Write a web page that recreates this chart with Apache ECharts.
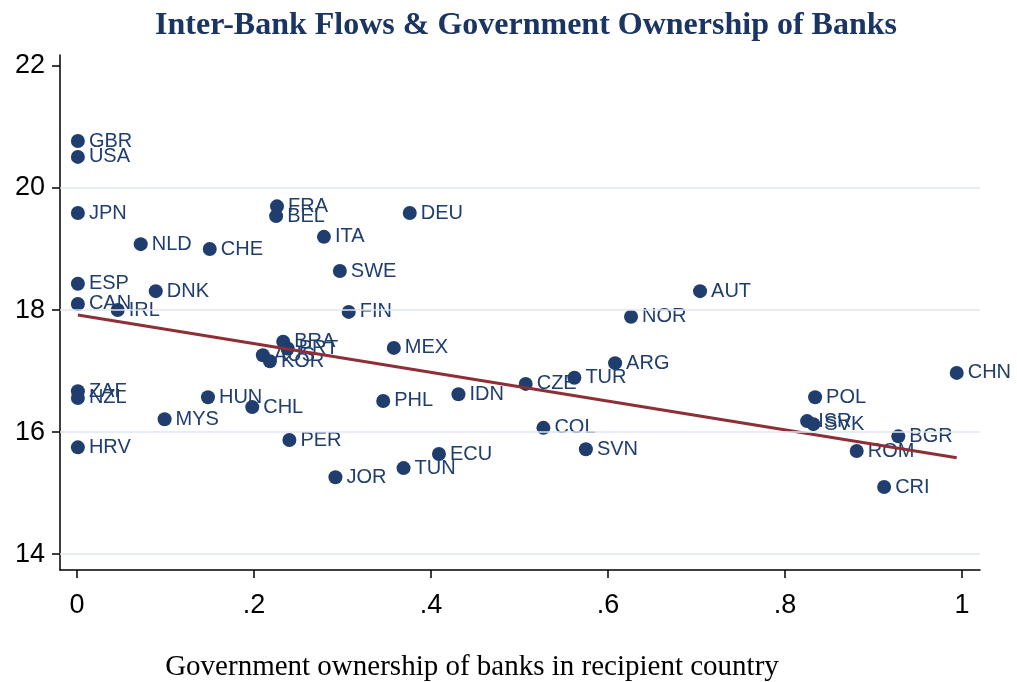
<!DOCTYPE html>
<html>
<head>
<meta charset="utf-8">
<script src="https://cdn.jsdelivr.net/npm/echarts@6/dist/echarts.min.js"></script>
<style>html,body{margin:0;padding:0;background:#fff}#c{width:1017px;height:682px}</style>
</head>
<body>
<div id="c"></div>
<script>
const countries = ['GBR','USA','JPN','ESP','CAN','ZAF','NZL','HRV','IRL','DNK','NLD','CHE','MYS','HUN','CHL','FRA','BEL','ITA','SWE','FIN','DEU','BRA','PRT','AUS','KOR','MEX','PHL','IDN','PER','JOR','TUN','ECU','CZE','TUR','ARG','COL','SVN','NOR','AUT','POL','ISR','SVK','BGR','ROM','CRI','CHN'];
const govOwnership = [0.001,0.001,0.001,0.001,0.001,0.001,0.001,0.001,0.046,0.089,0.072,0.150,0.099,0.148,0.198,0.226,0.225,0.279,0.297,0.307,0.376,0.233,0.238,0.210,0.218,0.358,0.346,0.431,0.240,0.292,0.369,0.409,0.507,0.562,0.608,0.527,0.575,0.626,0.704,0.834,0.825,0.832,0.928,0.881,0.912,0.994];
const interBankFlows = [20.77,20.51,19.59,18.43,18.10,16.67,16.56,15.75,18.00,18.31,19.08,19.00,16.21,16.57,16.41,19.70,19.54,19.20,18.64,17.97,19.59,17.48,17.37,17.26,17.16,17.38,16.51,16.62,15.87,15.26,15.41,15.64,16.79,16.89,17.13,16.07,15.72,17.89,18.31,16.57,16.18,16.13,15.93,15.69,15.10,16.97];
const fitX = [0.001, 0.994];
const fitY = [17.92, 15.58];
const xTicks = [0, 0.2, 0.4, 0.6, 0.8, 1];
const xTickLabels = ['0', '.2', '.4', '.6', '.8', '1'];
const yTicks = [14, 16, 18, 20, 22];
const yGridLines = [14, 16, 18, 20];

const points = countries.map((c, i) => ({ name: c, value: [govOwnership[i], interBankFlows[i]] }));
const fitData = fitX.map((x, i) => [x, fitY[i]]);
const navy = '#1f3d6d';

const chart = echarts.init(document.getElementById('c'));
chart.setOption({
  animation: false,
  backgroundColor: '#ffffff',
  title: [
    { text: 'Inter-Bank Flows & Government Ownership of Banks', left: 521, top: 5, textAlign: 'center',
      textStyle: { fontFamily: 'Liberation Serif', fontWeight: 'bold', fontSize: 32, color: '#1a3563' } },
    { text: 'Government ownership of banks in recipient country', left: 467, top: 648, textAlign: 'center',
      textStyle: { fontFamily: 'Liberation Serif', fontWeight: 'normal', fontSize: 29, color: '#000' } }
  ],
  grid: { left: 60, right: 37, top: 55, bottom: 112, containLabel: false },
  xAxis: {
    type: 'value', min: -0.0192, max: 1.0203,
    axisLine: { show: true, onZero: false, lineStyle: { color: '#000', width: 1.5 } },
    axisTick: { show: true, length: 8, customValues: xTicks, lineStyle: { color: '#000', width: 1.5 } },
    axisLabel: { customValues: xTicks, margin: 22, fontSize: 27, color: '#000', fontFamily: 'Liberation Sans',
      formatter: v => { const i = xTicks.findIndex(t => Math.abs(t - v) < 1e-6); return i >= 0 ? xTickLabels[i] : ''; } },
    splitLine: { show: false }
  },
  yAxis: {
    type: 'value', min: 13.74, max: 22.18,
    axisLine: { show: true, onZero: false, lineStyle: { color: '#000', width: 1.5 } },
    axisTick: { show: true, length: 8, customValues: yTicks, lineStyle: { color: '#000', width: 1.5 } },
    axisLabel: { customValues: yTicks, margin: 15, fontSize: 27, color: '#000', fontFamily: 'Liberation Sans' },
    splitLine: { show: false }
  },
  series: [
    {
      type: 'scatter', data: [], z: 1, silent: true,
      markLine: {
        silent: true, symbol: 'none', label: { show: false }, animation: false,
        lineStyle: { color: '#dfe6ef', width: 1.5, type: 'solid' },
        data: yGridLines.map(v => ({ yAxis: v }))
      }
    },
    {
      type: 'scatter', data: points, z: 3, symbol: 'circle', symbolSize: 14,
      itemStyle: { color: navy, opacity: 1 },
      label: { show: true, position: 'right', distance: 4, formatter: '{b}', color: navy,
        fontSize: 20, fontFamily: 'Liberation Sans' },
      emphasis: { disabled: true }
    },
    {
      type: 'line', data: fitData, z: 4, symbol: 'none', silent: true,
      lineStyle: { color: '#8e2f38', width: 3 }
    }
  ]
});
</script>
</body>
</html>
